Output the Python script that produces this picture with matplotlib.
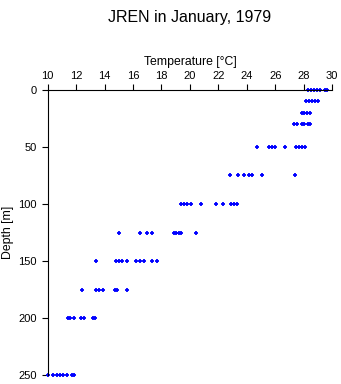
import matplotlib
matplotlib.use("Agg")
import matplotlib.pyplot as plt

plt.rcParams["font.family"] = ["Liberation Sans", "DejaVu Sans"]

# temperature readings (deg C) at each sampled depth (m)
depths = [0, 10, 20, 30, 50, 75, 100, 125, 150, 175, 200, 250]
temps = [
    [28.3, 28.5, 28.7, 28.95, 29.15, 29.5, 29.65],
    [28.15, 28.35, 28.6, 28.8, 29.0],
    [27.85, 28.05, 28.25, 28.45],
    [27.35, 27.5, 27.85, 28.05, 28.3, 28.45],
    [24.75, 25.55, 25.8, 26.0, 26.7, 27.45, 27.65, 27.85, 28.1],
    [22.8, 23.35, 23.8, 24.15, 24.35, 25.05, 27.4],
    [19.35, 19.6, 19.8, 20.1, 20.8, 21.85, 22.3, 22.9, 23.1, 23.3],
    [15.0, 16.5, 16.95, 17.3, 18.85, 19.05, 19.2, 19.35, 20.4],
    [13.4, 14.8, 15.0, 15.2, 15.6, 16.2, 16.5, 16.8, 17.35, 17.7],
    [12.4, 13.4, 13.6, 13.9, 14.7, 14.9, 15.6],
    [11.4, 11.6, 11.85, 12.35, 12.55, 13.15, 13.35],
    [10.0, 10.4, 10.65, 10.85, 11.1, 11.35, 11.7, 11.85],
]

xs, ys = [], []
for d, row in zip(depths, temps):
    xs += row
    ys += [d] * len(row)

fig = plt.figure(figsize=(3.41, 3.84), dpi=100)
ax = fig.add_axes([0.14, 0.023, 0.834, 0.743])

ax.plot(xs, ys, "+", color="blue", ms=3, mew=1.3, clip_on=False)

ax.set_xlim(10, 30)
ax.set_ylim(250, 0)
ax.set_xticks(range(10, 31, 2))
ax.set_yticks(range(0, 251, 50))

ax.xaxis.tick_top()
ax.xaxis.set_label_position("top")
ax.spines["right"].set_visible(False)
ax.spines["bottom"].set_visible(False)
for s in ("top", "left"):
    ax.spines[s].set_linewidth(0.8)
ax.tick_params(direction="out", length=4, width=0.8, labelsize=8)
ax.tick_params(axis="x", pad=2.5)
ax.tick_params(axis="y", pad=4)

ax.set_xlabel("Temperature [°C]", fontsize=8.8, labelpad=4)
ax.set_ylabel("Depth [m]", fontsize=8.8, labelpad=3)

fig.text(0.557, 0.955, "JREN in January, 1979", ha="center", va="center", fontsize=11.5)

fig.savefig("out.png", dpi=100)
